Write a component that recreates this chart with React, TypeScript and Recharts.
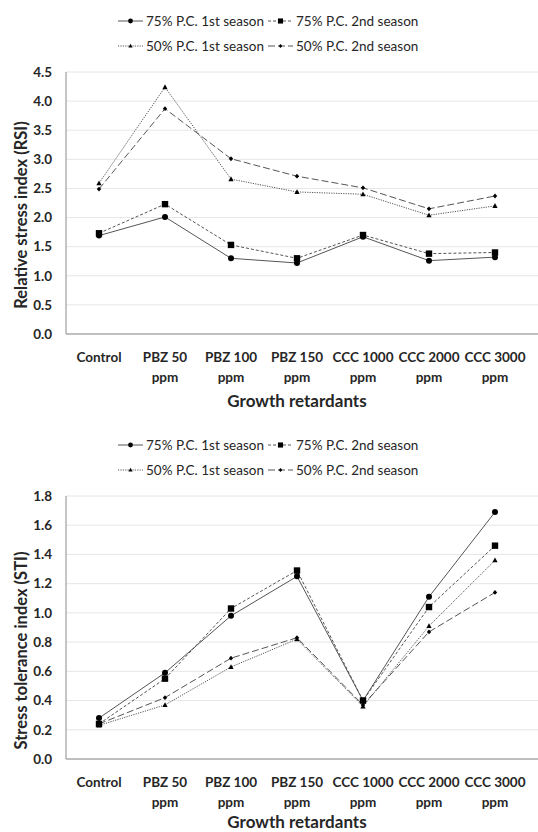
import React from 'react';
import { LineChart, Line, XAxis, YAxis, CartesianGrid, Legend } from 'recharts';

const categories = ['Control', 'PBZ 50 ppm', 'PBZ 100 ppm', 'PBZ 150 ppm', 'CCC 1000 ppm', 'CCC 2000 ppm', 'CCC 3000 ppm'];

const seriesNames = ['75% P.C. 1st season', '75% P.C. 2nd season', '50% P.C. 1st season', '50% P.C. 2nd season'];

// Relative stress index
const rsi75First = [1.69, 2.01, 1.3, 1.22, 1.67, 1.26, 1.32];
const rsi75Second = [1.73, 2.23, 1.53, 1.3, 1.7, 1.38, 1.4];
const rsi50First = [2.59, 4.24, 2.66, 2.44, 2.4, 2.04, 2.2];
const rsi50Second = [2.49, 3.87, 3.01, 2.71, 2.51, 2.15, 2.37];
const rsiTicks = [0, 0.5, 1, 1.5, 2, 2.5, 3, 3.5, 4, 4.5];

// Stress tolerance index
const sti75First = [0.28, 0.59, 0.98, 1.25, 0.4, 1.11, 1.69];
const sti75Second = [0.24, 0.55, 1.03, 1.29, 0.4, 1.04, 1.46];
const sti50First = [0.23, 0.37, 0.63, 0.82, 0.36, 0.91, 1.36];
const sti50Second = [0.24, 0.42, 0.69, 0.83, 0.37, 0.87, 1.14];
const stiTicks = [0, 0.2, 0.4, 0.6, 0.8, 1, 1.2, 1.4, 1.6, 1.8];

const FONT = 'Lato, "Open Sans", sans-serif';
const LINE = '#555';
const MARK = '#000';

type Marker = 'circle' | 'square' | 'triangle' | 'diamond';

const styles: { dash?: string; marker: Marker }[] = [
  { marker: 'circle' },
  { dash: '3 2', marker: 'square' },
  { dash: '1.2 1.2', marker: 'triangle' },
  { dash: '7 3', marker: 'diamond' },
];

function drawMarker(type: Marker, cx: number, cy: number, key?: React.Key, s = 1) {
  if (type === 'circle') return <circle key={key} cx={cx} cy={cy} r={3 * s} fill={MARK} />;
  if (type === 'square')
    return <rect key={key} x={cx - 3.2 * s} y={cy - 3.2 * s} width={6.4 * s} height={6.4 * s} fill={MARK} />;
  if (type === 'triangle')
    return (
      <polygon
        key={key}
        points={`${cx},${cy - 2.8 * s} ${cx + 2.6 * s},${cy + 2 * s} ${cx - 2.6 * s},${cy + 2 * s}`}
        fill={MARK}
      />
    );
  return (
    <polygon
      key={key}
      points={`${cx},${cy - 2.4 * s} ${cx + 2.2 * s},${cy} ${cx},${cy + 2.4 * s} ${cx - 2.2 * s},${cy}`}
      fill={MARK}
    />
  );
}

function makeDot(type: Marker) {
  return (props: any) => {
    const { cx, cy, index } = props;
    if (cx == null || cy == null) return <g key={index} />;
    return drawMarker(type, cx, cy, index);
  };
}

function LegendBox() {
  return (
    <div
      style={{
        width: 320,
        height: 64,
        display: 'flex',
        flexWrap: 'wrap',
        alignContent: 'flex-start',
        fontFamily: FONT,
        fontSize: 13.5,
        color: '#262626',
        whiteSpace: 'nowrap',
      }}
    >
      {seriesNames.map((name, i) => (
        <div key={name} style={{ width: i % 2 === 0 ? 150 : 170, height: 25, display: 'flex', alignItems: 'center' }}>
          <svg width={26} height={10} style={{ marginRight: 2, flexShrink: 0 }}>
            <line x1={0} y1={5} x2={25} y2={5} stroke={LINE} strokeWidth={1} strokeDasharray={styles[i].dash} />
            {drawMarker(styles[i].marker, 12.5, 5, undefined, 0.8)}
          </svg>
          <span>{name}</span>
        </div>
      ))}
    </div>
  );
}

function CategoryTick(props: any) {
  const { x, y, payload } = props;
  const label: string = payload.value;
  const parts = label.endsWith(' ppm') ? [label.slice(0, -4), 'ppm'] : [label];
  return (
    <text x={x} y={y} textAnchor="middle" fontFamily={FONT} fontSize={13.5} fontWeight={700} fill="#262626">
      {parts.map((p, i) => (
        <tspan key={i} x={x} dy={20}>
          {p}
        </tspan>
      ))}
    </text>
  );
}

interface PanelProps {
  values: number[][];
  ticks: number[];
  max: number;
  yTitle: string;
  height: number;
  xAxisHeight: number;
  titleShift: number;
  xTitleOffset: number;
}

function Panel({ values, ticks, max, yTitle, height, xAxisHeight, titleShift, xTitleOffset }: PanelProps) {
  const data = categories.map((c, i) => ({
    name: c,
    s0: values[0][i],
    s1: values[1][i],
    s2: values[2][i],
    s3: values[3][i],
  }));

  return (
    <LineChart width={538} height={height} data={data} margin={{ top: 8, right: 0, left: 0, bottom: 0 }}>
      <Legend verticalAlign="top" content={() => <LegendBox />} wrapperStyle={{ left: 118, width: 320 }} />
      <CartesianGrid vertical={false} stroke="#e6e6e6" strokeWidth={1} />
      <XAxis
        dataKey="name"
        height={xAxisHeight}
        interval={0}
        tickLine={false}
        axisLine={{ stroke: '#8c8c8c' }}
        padding={{ left: 33, right: 43 }}
        tick={<CategoryTick />}
        label={{
          value: 'Growth retardants',
          position: 'insideTop',
          offset: xTitleOffset,
          dx: -5,
          fontFamily: FONT,
          fontSize: 17,
          fontWeight: 700,
          fill: '#262626',
        }}
      />
      <YAxis
        width={66}
        domain={[0, max]}
        ticks={ticks}
        tickLine={false}
        tickSize={0}
        tickMargin={14}
        axisLine={{ stroke: '#8c8c8c' }}
        tickFormatter={(v: number) => v.toFixed(1)}
        tick={{ fontFamily: FONT, fontSize: 13.5, fontWeight: 700, fill: '#262626' }}
        label={{
          value: yTitle,
          angle: -90,
          position: 'center',
          dx: -12,
          dy: titleShift,
          fontFamily: FONT,
          fontSize: 16.5,
          fontWeight: 700,
          fill: '#262626',
        }}
      />
      {styles.map((s, i) => (
        <Line
          key={i}
          dataKey={`s${i}`}
          name={seriesNames[i]}
          stroke={LINE}
          strokeWidth={1}
          strokeDasharray={s.dash}
          dot={makeDot(s.marker)}
          activeDot={false}
          isAnimationActive={false}
        />
      ))}
    </LineChart>
  );
}

export default function App() {
  return (
    <div style={{ position: 'absolute', left: 0, top: 0, width: 538, height: 832, background: '#fff' }}>
      <Panel
        values={[rsi75First, rsi75Second, rsi50First, rsi50Second]}
        ticks={rsiTicks}
        max={4.5}
        yTitle="Relative stress index (RSI)"
        height={424}
        xAxisHeight={90}
        titleShift={12}
        xTitleOffset={61}
      />
      <Panel
        values={[sti75First, sti75Second, sti50First, sti50Second]}
        ticks={stiTicks}
        max={1.8}
        yTitle="Stress tolerance index (STI)"
        height={408}
        xAxisHeight={73}
        titleShift={23}
        xTitleOffset={57}
      />
    </div>
  );
}
